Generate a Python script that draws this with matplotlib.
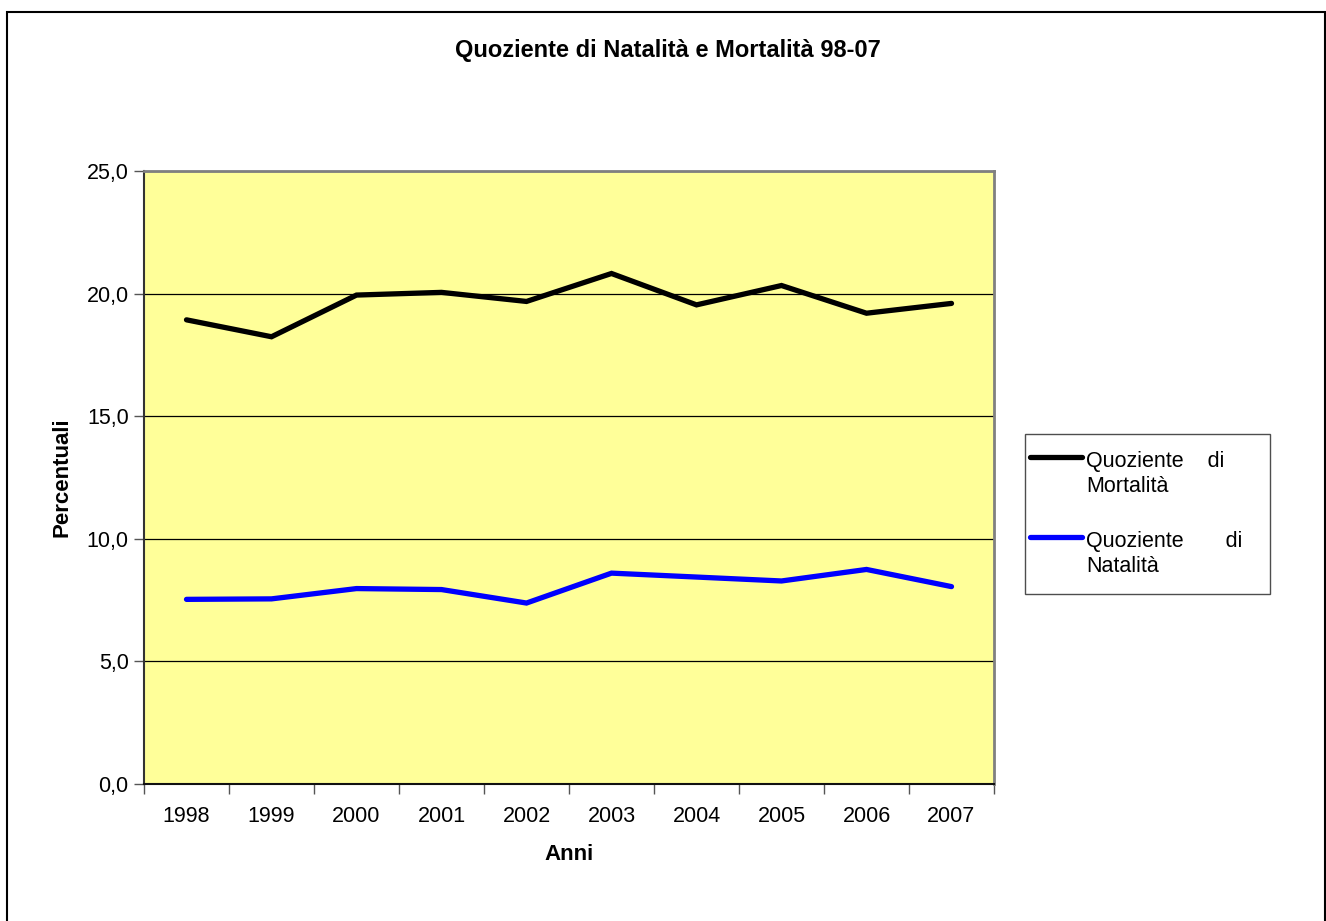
import numpy as np
import matplotlib.pyplot as plt
from matplotlib.patches import Rectangle
from matplotlib.ticker import FixedLocator, FuncFormatter

plt.rcParams['font.family'] = ['Liberation Sans', 'DejaVu Sans']

anni = ["1998", "1999", "2000", "2001", "2002", "2003", "2004", "2005", "2006", "2007"]
mortalita = [18.93, 18.24, 19.94, 20.05, 19.68, 20.82, 19.54, 20.33, 19.20, 19.60]
natalita = [7.53, 7.55, 7.97, 7.93, 7.38, 8.60, 8.44, 8.28, 8.75, 8.05]

W, H = 1326, 921
fig = plt.figure(figsize=(W / 100, H / 100), dpi=100)
ax = fig.add_axes([144 / W, 1 - 784 / H, (994 - 144) / W, (784 - 171) / H])
ax.set_facecolor("#FFFF99")

x = np.arange(len(anni))
ax.plot(x, mortalita, color="black", lw=3.8, solid_capstyle="round",
        solid_joinstyle="miter", label="Quoziente    di\nMortalità")
ax.plot(x, natalita, color="#0000FF", lw=3.8, solid_capstyle="round",
        solid_joinstyle="miter", label="Quoziente       di\nNatalità")

ax.set_xlim(-0.5, len(anni) - 0.5)
ax.set_ylim(0, 25)
ax.set_yticks(np.arange(0, 26, 5))
ax.yaxis.set_major_formatter(FuncFormatter(lambda v, p: f"{v:.1f}".replace(".", ",")))
ax.yaxis.grid(True, color="black", lw=0.9)
ax.set_axisbelow(True)

ax.set_xticks(x)
ax.set_xticklabels(anni)
ax.xaxis.set_minor_locator(FixedLocator(np.arange(-0.5, len(anni), 1)))
ax.tick_params(axis="x", which="major", length=0, pad=16, labelsize=15.5)
ax.tick_params(axis="x", which="minor", length=7, width=1, color="#555555")
ax.tick_params(axis="y", length=7, width=1, color="#555555", labelsize=15.5, pad=4)

for s in ["top", "right"]:
    ax.spines[s].set_color("#808080")
    ax.spines[s].set_linewidth(2)
ax.spines["left"].set_color("#333333")
ax.spines["bottom"].set_color("#111111")
ax.spines["left"].set_linewidth(1.5)
ax.spines["bottom"].set_linewidth(1.5)

ax.set_xlabel("Anni", fontsize=16, fontweight="bold", labelpad=12)
ax.set_ylabel("Percentuali", fontsize=16, fontweight="bold", labelpad=10)

fig.text(668 / W, 1 - 51 / H, "Quoziente di Natalità e Mortalità 98-07",
         ha="center", va="center", fontsize=17, fontweight="bold")

leg = fig.legend(loc="upper left", bbox_to_anchor=(1025 / W, 1 - 592 / H, 245 / W, 158 / H),
                 mode="expand", fontsize=15.5, handlelength=2.4, handletextpad=0.1,
                 labelspacing=1.55, borderpad=0.8, fancybox=False, frameon=True,
                 borderaxespad=0, handleheight=0.7)
leg.get_frame().set_edgecolor("#222222")
leg.get_frame().set_linewidth(1)
for ln in leg.get_lines():
    ln.set_ydata(np.asarray(ln.get_ydata()) + 12.5)
    ln.set_xdata(np.asarray(ln.get_xdata()) - 8.6)
for t in leg.get_texts():
    t.set_linespacing(1.25)
    t.set_x(-10)

fig.patches.append(Rectangle((7 / W, -0.05), (1325 - 7) / W, 1.05 - 12 / H,
                             transform=fig.transFigure, fill=False,
                             edgecolor="black", lw=1.5))

fig.savefig("out.png", dpi=100)
